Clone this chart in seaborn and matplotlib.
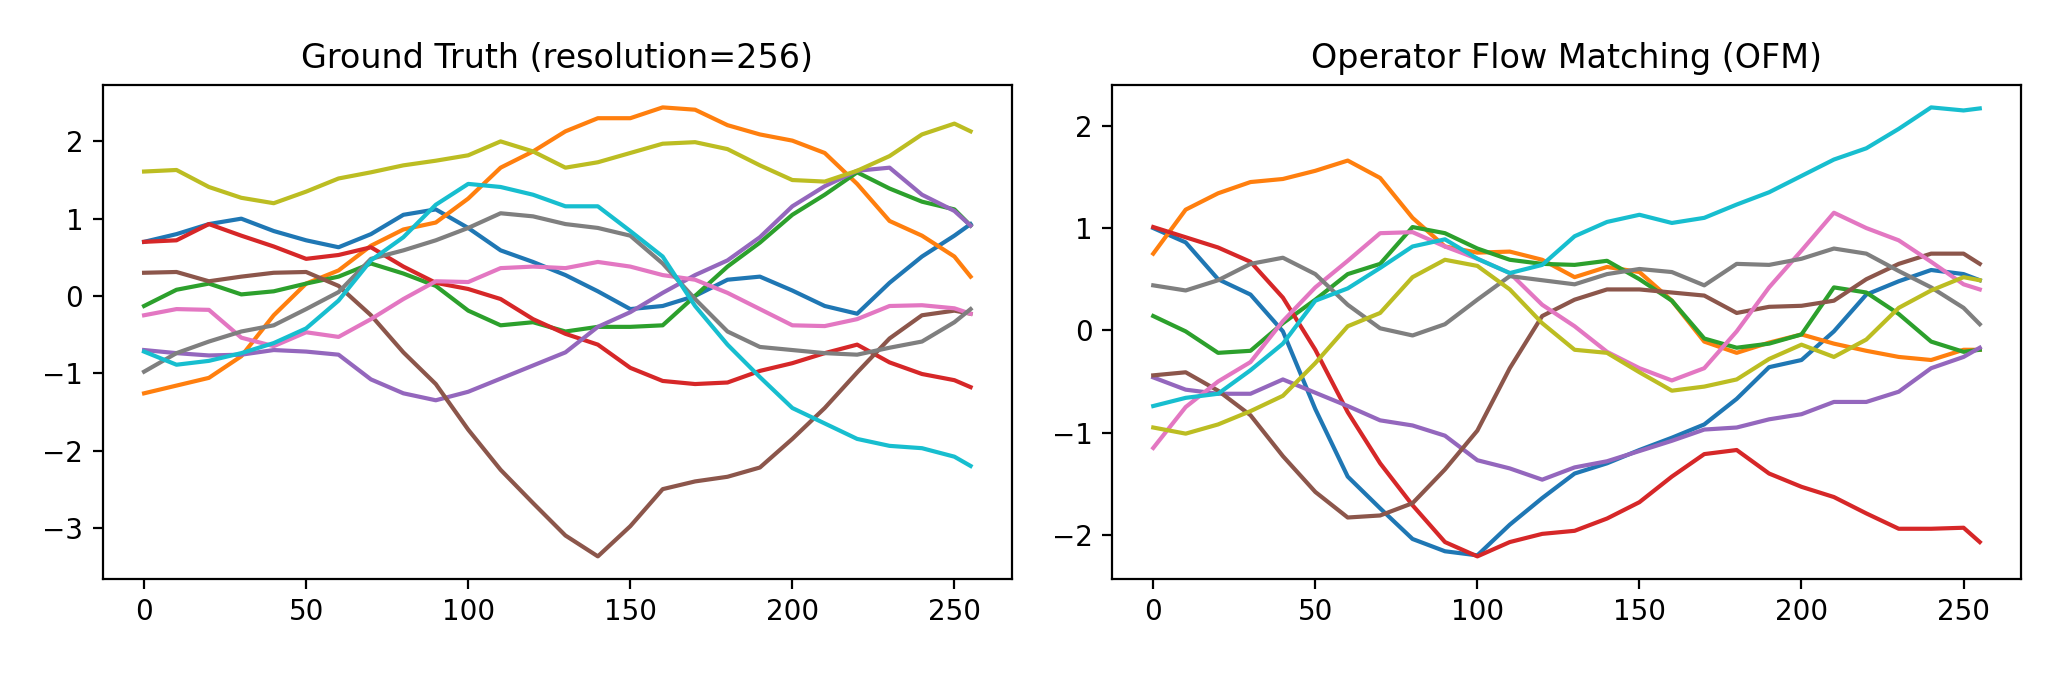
# ===================== IMPORTS =====================
import numpy as np
import pandas as pd
import matplotlib
matplotlib.use("Agg")
import matplotlib.pyplot as plt
import seaborn as sns


# ===================== DATA =====================
# sample positions along the 256-point grid
x_grid = [0, 10, 20, 30, 40, 50, 60, 70, 80, 90, 100, 110, 120, 130,
          140, 150, 160, 170, 180, 190, 200, 210, 220, 230, 240, 250, 255]

titles = ["Ground Truth (resolution=256)", "Operator Flow Matching (OFM)"]

# ground truth samples
gt_0 = [0.70, 0.80, 0.93, 1.00, 0.84, 0.72, 0.63, 0.80, 1.05, 1.12, 0.88, 0.59, 0.44, 0.27,
        0.06, -0.17, -0.13, 0.00, 0.21, 0.25, 0.07, -0.13, -0.23, 0.17, 0.51, 0.78, 0.93]
gt_1 = [-1.26, -1.16, -1.06, -0.78, -0.25, 0.16, 0.33, 0.65, 0.86, 0.95, 1.26, 1.66, 1.87, 2.13,
        2.30, 2.30, 2.44, 2.41, 2.21, 2.09, 2.01, 1.85, 1.45, 0.97, 0.78, 0.51, 0.25]
gt_2 = [-0.13, 0.08, 0.16, 0.02, 0.06, 0.16, 0.25, 0.42, 0.29, 0.13, -0.19, -0.38, -0.34, -0.46,
        -0.40, -0.40, -0.38, 0.00, 0.38, 0.69, 1.05, 1.31, 1.60, 1.39, 1.22, 1.12, 0.91]
gt_3 = [0.70, 0.72, 0.93, 0.78, 0.64, 0.48, 0.53, 0.63, 0.38, 0.17, 0.09, -0.04, -0.30, -0.49,
        -0.63, -0.93, -1.10, -1.14, -1.12, -0.97, -0.87, -0.74, -0.63, -0.86, -1.01, -1.09, -1.18]
gt_4 = [-0.70, -0.74, -0.77, -0.76, -0.70, -0.72, -0.76, -1.08, -1.26, -1.35, -1.24, -1.07, -0.90, -0.73,
        -0.40, -0.21, 0.04, 0.27, 0.46, 0.76, 1.16, 1.42, 1.62, 1.66, 1.31, 1.10, 0.91]
gt_5 = [0.30, 0.31, 0.19, 0.25, 0.30, 0.31, 0.13, -0.25, -0.73, -1.14, -1.73, -2.25, -2.68, -3.10,
        -3.37, -2.98, -2.50, -2.40, -2.34, -2.22, -1.85, -1.45, -0.99, -0.55, -0.25, -0.19, -0.23]
gt_6 = [-0.25, -0.17, -0.18, -0.54, -0.65, -0.47, -0.53, -0.30, -0.04, 0.19, 0.18, 0.36, 0.38, 0.36,
        0.44, 0.38, 0.27, 0.21, 0.04, -0.17, -0.38, -0.39, -0.30, -0.13, -0.12, -0.16, -0.23]
gt_7 = [-0.98, -0.74, -0.59, -0.46, -0.38, -0.17, 0.05, 0.48, 0.59, 0.72, 0.88, 1.07, 1.03, 0.93,
        0.88, 0.78, 0.42, -0.04, -0.46, -0.66, -0.70, -0.74, -0.76, -0.67, -0.59, -0.34, -0.17]
gt_8 = [1.61, 1.63, 1.41, 1.27, 1.20, 1.35, 1.52, 1.60, 1.69, 1.75, 1.82, 2.00, 1.87, 1.66,
        1.73, 1.85, 1.97, 1.99, 1.90, 1.69, 1.50, 1.48, 1.62, 1.81, 2.09, 2.23, 2.13]
gt_9 = [-0.72, -0.89, -0.84, -0.74, -0.61, -0.42, -0.06, 0.46, 0.76, 1.18, 1.45, 1.41, 1.31, 1.16,
        1.16, 0.84, 0.51, -0.13, -0.63, -1.05, -1.45, -1.65, -1.85, -1.94, -1.97, -2.08, -2.20]

# OFM samples
ofm_0 = [1.00, 0.86, 0.50, 0.35, -0.01, -0.77, -1.43, -1.74, -2.04, -2.16, -2.20, -1.90, -1.64, -1.40,
         -1.30, -1.17, -1.05, -0.92, -0.67, -0.36, -0.29, -0.01, 0.35, 0.48, 0.59, 0.55, 0.49]
ofm_1 = [0.75, 1.18, 1.34, 1.45, 1.48, 1.56, 1.66, 1.49, 1.10, 0.82, 0.76, 0.77, 0.69, 0.52,
         0.62, 0.57, 0.29, -0.11, -0.22, -0.12, -0.04, -0.13, -0.20, -0.26, -0.29, -0.19, -0.19]
ofm_2 = [0.14, -0.01, -0.22, -0.20, 0.07, 0.30, 0.55, 0.65, 1.01, 0.95, 0.80, 0.69, 0.65, 0.64,
         0.68, 0.50, 0.29, -0.08, -0.17, -0.13, -0.04, 0.42, 0.37, 0.16, -0.11, -0.21, -0.19]
ofm_3 = [1.01, 0.91, 0.81, 0.67, 0.32, -0.19, -0.80, -1.30, -1.71, -2.07, -2.21, -2.07, -1.99, -1.96,
         -1.84, -1.68, -1.43, -1.21, -1.17, -1.40, -1.53, -1.63, -1.79, -1.94, -1.94, -1.93, -2.07]
ofm_4 = [-0.46, -0.58, -0.62, -0.62, -0.48, -0.61, -0.74, -0.88, -0.93, -1.03, -1.27, -1.35, -1.46, -1.34,
         -1.28, -1.18, -1.08, -0.97, -0.95, -0.87, -0.82, -0.70, -0.70, -0.60, -0.37, -0.26, -0.17]
ofm_5 = [-0.44, -0.41, -0.59, -0.83, -1.23, -1.58, -1.83, -1.81, -1.69, -1.36, -0.98, -0.37, 0.14, 0.30,
         0.40, 0.40, 0.37, 0.34, 0.17, 0.23, 0.24, 0.29, 0.50, 0.65, 0.75, 0.75, 0.65]
ofm_6 = [-1.15, -0.75, -0.50, -0.31, 0.09, 0.42, 0.68, 0.95, 0.96, 0.82, 0.70, 0.56, 0.25, 0.04,
         -0.21, -0.37, -0.49, -0.37, -0.01, 0.42, 0.78, 1.15, 1.00, 0.88, 0.67, 0.45, 0.40]
ofm_7 = [0.44, 0.39, 0.49, 0.65, 0.71, 0.55, 0.25, 0.02, -0.05, 0.06, 0.30, 0.53, 0.49, 0.45,
         0.55, 0.60, 0.57, 0.44, 0.65, 0.64, 0.70, 0.80, 0.75, 0.58, 0.42, 0.22, 0.06]
ofm_8 = [-0.95, -1.01, -0.92, -0.79, -0.64, -0.32, 0.04, 0.17, 0.52, 0.69, 0.63, 0.40, 0.07, -0.19,
         -0.22, -0.41, -0.59, -0.55, -0.48, -0.28, -0.14, -0.26, -0.09, 0.22, 0.39, 0.52, 0.49]
ofm_9 = [-0.74, -0.66, -0.62, -0.39, -0.13, 0.29, 0.41, 0.61, 0.82, 0.89, 0.70, 0.56, 0.64, 0.92,
         1.06, 1.13, 1.05, 1.10, 1.23, 1.35, 1.51, 1.67, 1.78, 1.97, 2.18, 2.15, 2.17]

gt_samples = [gt_0, gt_1, gt_2, gt_3, gt_4, gt_5, gt_6, gt_7, gt_8, gt_9]
ofm_samples = [ofm_0, ofm_1, ofm_2, ofm_3, ofm_4, ofm_5, ofm_6, ofm_7, ofm_8, ofm_9]


# ===================== LONG FORMAT =====================
def to_long(samples):
    rows = []
    for i, vals in enumerate(samples):
        for xv, yv in zip(x_grid, vals):
            rows.append({"x": xv, "y": yv, "curve": f"s{i}"})
    return pd.DataFrame(rows)


# ===================== PLOT =====================
palette = sns.color_palette("tab10", 10)
hue_order = [f"s{i}" for i in range(10)]

fig, axes = plt.subplots(1, 2, figsize=(10.275, 3.425), dpi=200)
fig.subplots_adjust(left=0.050, right=0.9835, bottom=0.155, top=0.876, wspace=0.11)

for ax, samples, title in zip(axes, [gt_samples, ofm_samples], titles):
    df = to_long(samples)
    sns.lineplot(data=df, x="x", y="y", hue="curve", hue_order=hue_order,
                 palette=palette, estimator=None, legend=False, linewidth=1.5, ax=ax)
    ax.set_title(title, fontsize=12)
    ax.set_xlabel("")
    ax.set_ylabel("")

fig.savefig("out.png", dpi=200)
plt.close(fig)
